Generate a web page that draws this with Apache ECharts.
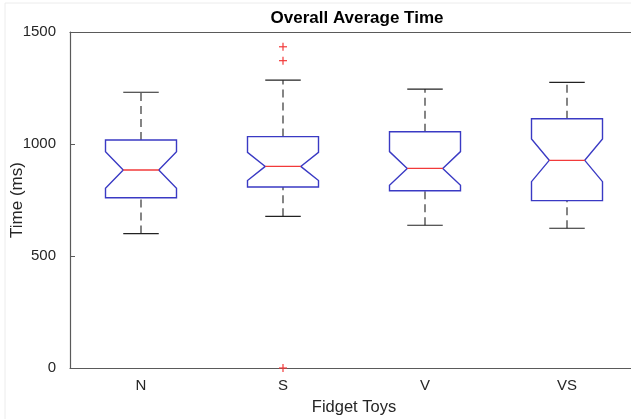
<!DOCTYPE html>
<html>
<head>
<meta charset="utf-8">
<script src="https://cdn.jsdelivr.net/npm/echarts@6/dist/echarts.min.js"></script>
<style>
  html, body { margin: 0; padding: 0; background: #fff; }
  #chart { width: 631px; height: 419px; }
</style>
</head>
<body>
<div id="chart"></div>
<script>
// values (ms)
const categories = ['N', 'S', 'V', 'VS'];
const whiskerLow = [600, 677, 637, 624];
const q1 = [760, 808, 791, 747];
const notchLow = [802, 837, 816, 832];
const median = [884, 900, 891, 927];
const notchHigh = [966, 963, 966, 1022];
const q3 = [1018, 1033, 1055, 1113];
const whiskerHigh = [1231, 1285, 1245, 1275];
const outlierCat = [1, 1, 1];
const outlierVal = [1434, 1372, 0];
const yTicks = [0, 500, 1000, 1500];

const boxData = categories.map((c, i) => [i, whiskerLow[i], q1[i], notchLow[i], median[i], notchHigh[i], q3[i], whiskerHigh[i]]);
const outlierData = outlierCat.map((c, i) => [c, outlierVal[i]]);

const blue = '#3a3ac4';
const red = '#f23a3a';
const black = '#222';

function renderBox(params, api) {
  const idx = api.value(0);
  const band = api.size([1, 0])[0];
  const w = band * 0.25;
  const x = api.coord([idx, 0])[0];
  const y = (k) => api.coord([idx, api.value(k)])[1];
  const wl = y(1), b1 = y(2), nl = y(3), md = y(4), nh = y(5), b3 = y(6), wh = y(7);
  const dash = { stroke: black, lineWidth: 1.1, lineDash: [8, 5] };
  const solid = { stroke: black, lineWidth: 1.1 };
  return {
    type: 'group',
    children: [
      { type: 'line', shape: { x1: x, y1: b3, x2: x, y2: wh }, style: dash },
      { type: 'line', shape: { x1: x, y1: wl, x2: x, y2: b1 }, style: dash },
      { type: 'line', shape: { x1: x - w / 2, y1: wh, x2: x + w / 2, y2: wh }, style: solid },
      { type: 'line', shape: { x1: x - w / 2, y1: wl, x2: x + w / 2, y2: wl }, style: solid },
      {
        type: 'polygon',
        shape: {
          points: [
            [x - w, b3], [x + w, b3], [x + w, nh], [x + w / 2, md], [x + w, nl],
            [x + w, b1], [x - w, b1], [x - w, nl], [x - w / 2, md], [x - w, nh]
          ]
        },
        style: { fill: 'none', stroke: blue, lineWidth: 1.4 }
      },
      { type: 'line', shape: { x1: x - w / 2, y1: md, x2: x + w / 2, y2: md }, style: { stroke: red, lineWidth: 1.4 } }
    ]
  };
}

function renderPlus(params, api) {
  const p = api.coord([api.value(0), api.value(1)]);
  const s = 4;
  const st = { stroke: red, lineWidth: 1.2 };
  return {
    type: 'group',
    children: [
      { type: 'line', shape: { x1: p[0] - s, y1: p[1], x2: p[0] + s, y2: p[1] }, style: st },
      { type: 'line', shape: { x1: p[0], y1: p[1] - s, x2: p[0], y2: p[1] + s }, style: st }
    ]
  };
}

const font = 'Liberation Sans, Arial, sans-serif';
const axisColor = '#5a5a5a';

let myChart = echarts.init(document.getElementById('chart'));
let option = {
  backgroundColor: '#fff',
  animation: false,
  title: {
    text: 'Overall Average Time',
    left: 352,
    top: 5,
    textAlign: 'center',
    textStyle: { fontFamily: font, fontSize: 17, fontWeight: 'bold', color: '#000' }
  },
  grid: { left: 70, top: 32, right: -7, bottom: 51, outerBoundsMode: 'none', containLabel: false },
  xAxis: [
    {
      type: 'category',
      data: categories,
      name: 'Fidget Toys',
      nameLocation: 'middle',
      nameGap: 31,
      nameMoveOverlap: false,
      nameTextStyle: { fontFamily: font, fontSize: 16.5, color: '#262626' },
      axisLine: { lineStyle: { color: axisColor, width: 1.2 } },
      axisTick: { inside: true, alignWithLabel: true, length: 5, lineStyle: { color: axisColor } },
      axisLabel: { fontFamily: font, fontSize: 15, color: '#262626', margin: 10 },
      splitLine: { show: false }
    },
    {
      type: 'category',
      data: categories,
      position: 'top',
      axisLine: { lineStyle: { color: axisColor, width: 1.2 } },
      axisTick: { inside: true, alignWithLabel: true, length: 5, lineStyle: { color: axisColor } },
      axisLabel: { show: false },
      splitLine: { show: false }
    }
  ],
  yAxis: {
    type: 'value',
    min: 0,
    max: 1500,
    interval: 500,
    name: 'Time (ms)',
    nameLocation: 'middle',
    nameGap: 44,
    nameMoveOverlap: false,
    nameTextStyle: { fontFamily: font, fontSize: 17, color: '#262626' },
    axisLine: { show: true, lineStyle: { color: axisColor, width: 1.2 } },
    axisTick: { show: true, inside: true, length: 5, lineStyle: { color: axisColor } },
    axisLabel: {
      fontFamily: font, fontSize: 15, color: '#262626', margin: 14,
      formatter: (v) => (yTicks.indexOf(v) >= 0 ? String(v) : '')
    },
    splitLine: { show: false }
  },
  graphic: [
    { type: 'line', shape: { x1: 5, y1: 3, x2: 631, y2: 3 }, style: { stroke: '#ececec', lineWidth: 1 } },
    { type: 'line', shape: { x1: 5, y1: 3, x2: 5, y2: 419 }, style: { stroke: '#ececec', lineWidth: 1 } }
  ],
  series: [
    {
      type: 'custom',
      renderItem: renderBox,
      data: boxData,
      encode: { x: 0, y: [1, 2, 3, 4, 5, 6, 7] },
      z: 3
    },
    {
      type: 'custom',
      renderItem: renderPlus,
      data: outlierData,
      encode: { x: 0, y: 1 },
      clip: false,
      z: 4
    }
  ]
};

option && myChart.setOption(option);
</script>
</body>
</html>
